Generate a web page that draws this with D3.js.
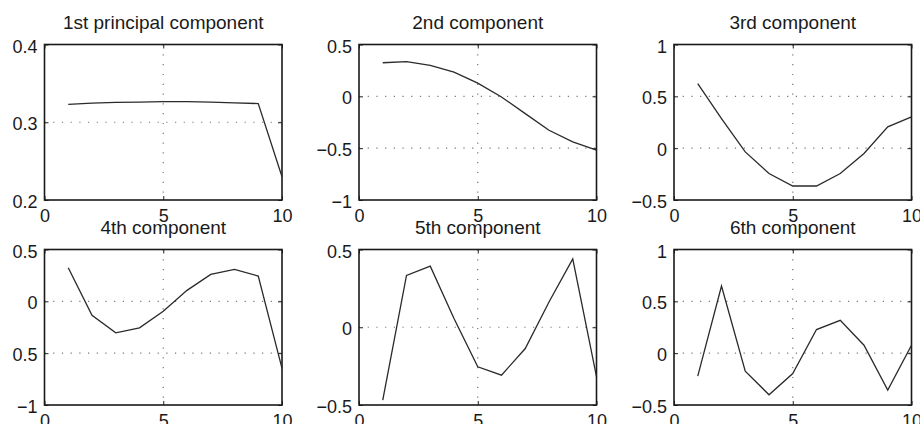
<!DOCTYPE html>
<html>
<head>
<meta charset="utf-8">
<script src="https://cdn.jsdelivr.net/npm/d3@7/dist/d3.min.js"></script>
<style>
  html, body { margin: 0; padding: 0; background: #fff; }
  svg { display: block; }
  text { font-family: "Liberation Sans", Arial, Helvetica, sans-serif; fill: #1a1a1a; }
</style>
</head>
<body>
<svg id="fig" width="920" height="424"></svg>
<script>
// Loadings of the first six principal components over 10 variables
const variables = [1, 2, 3, 4, 5, 6, 7, 8, 9, 10];
const titles = [
  "1st principal component", "2nd component", "3rd component",
  "4th component", "5th component", "6th component"
];
const pc1 = [0.323, 0.3245, 0.3255, 0.326, 0.3265, 0.3265, 0.326, 0.325, 0.324, 0.230];
const pc2 = [0.324, 0.334, 0.298, 0.234, 0.128, -0.006, -0.167, -0.327, -0.439, -0.519];
const pc3 = [0.622, 0.286, -0.036, -0.244, -0.365, -0.365, -0.244, -0.051, 0.205, 0.301];
const pc4 = [0.324, -0.135, -0.304, -0.256, -0.096, 0.106, 0.260, 0.308, 0.244, -0.647];
const pc5 = [-0.468, 0.333, 0.393, 0.056, -0.254, -0.308, -0.137, 0.162, 0.440, -0.318];
const pc6 = [-0.221, 0.647, -0.173, -0.401, -0.196, 0.228, 0.317, 0.077, -0.356, 0.077];
const seriesList = [pc1, pc2, pc3, pc4, pc5, pc6];

const xDomain = [0, 10];
const xTicks = [0, 5, 10];
const yDomains = [[0.2, 0.4], [-1, 0.5], [-0.5, 1], [-1, 0.5], [-0.5, 0.5], [-0.5, 1]];
const yTicks = [
  [0.2, 0.3, 0.4],
  [-1, -0.5, 0, 0.5],
  [-0.5, 0, 0.5, 1],
  [-1, -0.5, 0, 0.5],
  [-0.5, 0, 0.5],
  [-0.5, 0, 0.5, 1]
];

// subplot grid geometry
const colLeft = [44.5, 359, 674];
const rowTop = [44.5, 249.5];
const plotW = 237.5;
const plotH = 155.5;

const fmt = v => String(v).replace("-", "\u2212");

const svg = d3.select("#fig");
// the printed figure's canvas starts a little right of the page edge
svg.append("defs").append("clipPath").attr("id", "canvas")
  .append("rect").attr("x", 12.5).attr("y", 0).attr("width", 920).attr("height", 424);
const fig = svg.append("g").attr("clip-path", "url(#canvas)");

seriesList.forEach((series, i) => {
  const r = Math.floor(i / 3), c = i % 3;
  const g = fig.append("g")
    .attr("transform", `translate(${colLeft[c]},${rowTop[r]})`);

  const x = d3.scaleLinear().domain(xDomain).range([0, plotW]);
  const y = d3.scaleLinear().domain(yDomains[i]).range([plotH, 0]);

  // dotted grid at interior ticks
  const yInner = yTicks[i].filter(v => v > yDomains[i][0] && v < yDomains[i][1]);
  const xInner = xTicks.filter(v => v > xDomain[0] && v < xDomain[1]);
  g.append("g").selectAll("line").data(yInner).join("line")
    .attr("x1", 0).attr("x2", plotW)
    .attr("y1", d => y(d)).attr("y2", d => y(d))
    .attr("stroke", "#777").attr("stroke-width", 1.2)
    .attr("stroke-dasharray", "1.2,7.5");
  g.append("g").selectAll("line").data(xInner).join("line")
    .attr("y1", 0).attr("y2", plotH)
    .attr("x1", d => x(d)).attr("x2", d => x(d))
    .attr("stroke", "#777").attr("stroke-width", 1.2)
    .attr("stroke-dasharray", "1.2,8.6");

  // axes with inward ticks
  const styleAxis = sel => {
    sel.select(".domain").remove();
    sel.selectAll(".tick line").attr("stroke", "#222").attr("stroke-width", 1);
    sel.selectAll(".tick text").attr("font-size", 18).attr("fill", "#1a1a1a")
      .attr("font-family", "Liberation Sans, Arial, sans-serif");
  };
  g.append("g").call(d3.axisLeft(y).tickValues(yTicks[i]).tickSize(-4).tickPadding(7).tickFormat(fmt))
    .call(styleAxis)
    .selectAll(".tick text").attr("dy", "0.42em");
  g.append("g").attr("transform", `translate(${plotW},0)`)
    .call(d3.axisRight(y).tickValues(yTicks[i]).tickSize(-4).tickFormat(""))
    .call(styleAxis);
  g.append("g").attr("transform", `translate(0,${plotH})`)
    .call(d3.axisBottom(x).tickValues(xTicks).tickSize(-4).tickPadding(9).tickFormat(fmt))
    .call(styleAxis);
  g.append("g")
    .call(d3.axisTop(x).tickValues(xTicks).tickSize(-4).tickFormat(""))
    .call(styleAxis);

  // frame
  g.append("rect").attr("width", plotW).attr("height", plotH)
    .attr("fill", "none").attr("stroke", "#1a1a1a").attr("stroke-width", 1.6);

  // component loadings
  const line = d3.line().x((d, k) => x(variables[k])).y(d => y(d));
  g.append("path").datum(series).attr("d", line)
    .attr("fill", "none").attr("stroke", "#2a2a2a").attr("stroke-width", 1.3)
    .attr("stroke-linejoin", "miter");

  // title
  g.append("text").attr("x", plotW / 2).attr("y", -16)
    .attr("text-anchor", "middle").attr("font-size", 19)
    .text(titles[i]);
});
</script>
</body>
</html>
